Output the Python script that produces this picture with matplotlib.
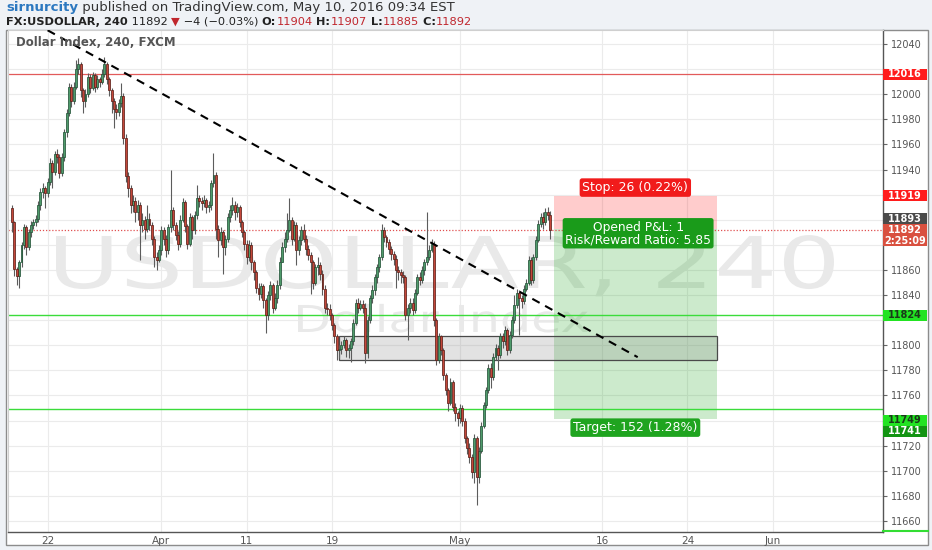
import matplotlib
matplotlib.use("Agg")
import matplotlib.pyplot as plt
import matplotlib.transforms as mtransforms
from matplotlib.patches import Rectangle, PathPatch
from matplotlib.lines import Line2D
from matplotlib.textpath import TextPath
from matplotlib.font_manager import FontProperties
import numpy as np
import pandas as pd

W, H, DPI = 932, 550, 100

# ---------------- data (4h candles, FX:USDOLLAR) ----------------
first_open = 11909
closes = [11898,11861,11855,11866,11880,11894,11878,11890,11896,11898,11901,11912,11922,11925,11921,11930,11945,11938,11952,11950,
          11937,11950,11970,11985,12006,11995,12006,12020,12024,12003,11995,12000,12014,12005,12015,12006,12012,12010,12016,12024,
          12012,12003,11995,11988,11986,11993,11999,11965,11935,11925,11912,11915,11906,11912,11896,11900,11893,
          11901,11896,11885,11870,11868,11876,11892,11885,11876,11894,11908,11896,11888,11881,11900,11914,11895,11881,11902,11892,
          11904,11917,11915,11913,11916,11910,11912,11929,11936,11893,11884,11890,11878,11885,11902,11908,11912,11906,11910,11898,
          11890,11881,11870,11880,11866,11858,11846,11841,11847,11836,11824,11840,11848,11830,11838,11848,11866,
          11878,11885,11892,11900,11885,11896,11876,11884,11892,11885,11877,11872,11866,11850,11862,11864,11857,11845,11830,11829,
          11824,11816,11807,11796,11797,11800,11804,11796,11798,11803,11818,11834,11830,11833,11830,11794,11820,11838,11844,11854,
          11862,11870,11892,11886,11882,11877,11873,11869,11860,11858,11856,11854,11824,11830,11834,11828,11842,11854,11852,11860,
          11866,11870,11876,11881,11820,11788,
          11807,11796,11776,11764,11754,11771,11751,11746,11742,11750,11740,11726,11718,11711,11699,11726,11695,11716,11736,11752,
          11764,11782,11775,11791,11798,11792,11807,11803,11812,11796,11808,11820,11832,11842,11838,11835,11845,11850,11868,11852,
          11870,11884,11897,11902,11898,11906,11904,11892]
highs = [11912,11899,11862,11868,11882,11897,11896,11893,11899,11901,11904,11915,11925,11929,11927,11933,11949,11948,11955,11956,
         11952,11953,11972,11988,12009,12008,12010,12027,12029,12026,12005,12004,12017,12016,12018,12017,12015,12014,12020,12030,
         12026,12014,12005,11997,11992,11996,12009,12001,11968,11938,11928,11920,11918,11916,11914,11905,11903,
         11912,11905,11898,11887,11874,11880,11895,11894,11888,11897,11940,11910,11898,11891,11904,11917,11916,11897,11905,11904,
         11907,11928,11920,11918,11920,11917,11915,11932,11953,11938,11896,11894,11892,11888,11905,11912,11918,11915,11913,11912,
         11900,11892,11884,11884,11882,11868,11860,11850,11850,11849,11838,11843,11851,11850,11842,11852,11870,
         11882,11890,11905,11917,11902,11899,11898,11887,11895,11897,11888,11880,11874,11868,11865,11870,11866,11860,11848,11834,
         11833,11826,11818,11809,11800,11803,11807,11806,11801,11806,11821,11837,11838,11836,11836,11834,11823,11840,11848,11857,
         11865,11873,11897,11894,11888,11885,11879,11875,11872,11863,11861,11859,11856,11833,11838,11838,11845,11857,11858,11863,
         11869,11906,11880,11885,11883,11822,
         11810,11808,11798,11778,11766,11774,11772,11754,11748,11753,11752,11742,11728,11722,11713,11729,11728,11719,11739,11755,
         11767,11785,11786,11794,11801,11800,11810,11810,11815,11814,11811,11823,11840,11845,11844,11840,11848,11853,11871,11870,
         11873,11887,11900,11905,11906,11909,11910,11907]
lows = [11890,11855,11848,11846,11862,11877,11872,11876,11886,11893,11895,11898,11908,11917,11909,11918,11928,11925,11936,11945,
        11933,11935,11947,11966,11983,11990,11992,12004,12016,11998,11985,11990,11998,12001,12003,12002,12004,12006,12008,12014,
        12008,11999,11985,11973,11980,11983,11990,11960,11930,11918,11905,11906,11898,11900,11868,11890,11885,
        11890,11892,11880,11862,11860,11866,11872,11880,11870,11873,11890,11892,11884,11876,11878,11898,11890,11877,11879,11885,
        11889,11901,11910,11908,11910,11905,11906,11908,11926,11885,11870,11880,11857,11872,11882,11898,11904,11900,11902,11894,
        11886,11876,11865,11867,11860,11852,11842,11836,11838,11830,11810,11820,11836,11826,11828,11834,11845,
        11866,11874,11882,11890,11880,11883,11864,11872,11880,11882,11872,11868,11841,11845,11848,11856,11852,11840,11826,11824,
        11820,11812,11802,11788,11790,11793,11798,11791,11790,11787,11800,11816,11826,11828,11826,11786,11790,11818,11834,11840,
        11850,11858,11868,11882,11878,11873,11868,11864,11846,11852,11850,11850,11820,11804,11826,11824,11826,11840,11848,11850,
        11856,11864,11868,11874,11815,11784,
        11786,11792,11772,11760,11748,11752,11748,11740,11736,11738,11736,11722,11713,11706,11694,11690,11673,11690,11714,11734,
        11750,11762,11766,11772,11788,11780,11790,11798,11800,11792,11794,11806,11818,11830,11808,11830,11833,11843,11848,11848,
        11850,11868,11882,11894,11893,11896,11900,11885]

first_bar_time = "2016-03-17 12:00"
bars_per_day = 6
tick_dates = ["2016-03-22", "2016-04-01", "2016-04-11", "2016-04-19", "2016-05-02", "2016-05-16", "2016-05-24", "2016-06-01"]
tick_labels = ["22", "Apr", "11", "19", "May", "16", "24", "Jun"]
price_ticks = list(range(11660, 12041, 20))

resistance_level = 12016
support_levels = [11824, 11749]
last_price = 11892
entry_price, stop_price, target_price = 11893, 11919, 11741
position_bars = [228.5, 297.5]
zone_bars = [138, 297.5]
zone_prices = [11788, 11807.5]
trend_bars = [15, 264]
trend_prices = [12051, 11790.5]

# ---------------- figure ----------------
fig = plt.figure(figsize=(W / DPI, H / DPI), dpi=DPI, facecolor="#eff2f6")
L, R, T, B = 8, 883, 30, 532
ax = fig.add_axes([L / W, 1 - B / H, (R - L) / W, (B - T) / H])
fig.add_artist(Rectangle((6 / W, 1 - 545 / H), (928 - 6) / W, (545 - T) / H, transform=fig.transFigure,
                         facecolor="white", edgecolor="#8c8c8c", lw=1.0, zorder=-5))

o = np.array([first_open] + closes[:-1], dtype=float)
c = np.array(closes, dtype=float)
hi = np.array(highs, dtype=float)
lo = np.array(lows, dtype=float)
x = np.arange(len(c))
up = c >= o

YMIN, YMAX = 11651.2, 12051.2
ax.set_xlim(-1.7, 367.5)
ax.set_ylim(YMIN, YMAX)
px_per_unit = (B - T) / (YMAX - YMIN)
ax_w_px = R - L

def price_to_px(p):
    return T + (YMAX - p) * px_per_unit

# watermark (stretched text paths, pixel placement)
def watermark(text, left_px, baseline_px, width_px, cap_px):
    fp = FontProperties(family="DejaVu Sans")
    tp = TextPath((0, 0), text, size=1, prop=fp)
    ext = tp.get_extents()
    sx = width_px / ext.width
    sy = cap_px / 0.729
    tr = (mtransforms.Affine2D().translate(-ext.x0, 0).scale(sx / DPI, sy / DPI)
          .translate(left_px / DPI, (H - baseline_px) / DPI) + fig.dpi_scale_trans)
    ax.add_patch(PathPatch(tp, transform=tr, facecolor="#e9e9e9", edgecolor="none", zorder=0.6))

watermark("USDOLLAR, 240", 56, 288, 778, 52)
watermark("Dollar Index", 298, 332, 290, 27)

# grid & axes styling
ax.set_axisbelow(True)
days = pd.bdate_range("2016-03-17", "2016-06-30")
day_idx = {d: k for k, d in enumerate(days)}
start = pd.Timestamp(first_bar_time)
offset = start.hour // (24 // bars_per_day)
tick_pos = [day_idx[pd.Timestamp(d)] * bars_per_day - offset for d in tick_dates]
ax.set_xticks(tick_pos)
ax.set_xticklabels(tick_labels)

# tags on the price scale: (price, text, bg, fg, shift in px)
tags = [(resistance_level, str(resistance_level), "#ff1c1c", "white", 0),
        (stop_price, str(stop_price), "#ff1c1c", "white", 0),
        (entry_price, str(entry_price), "#4a4a4a", "white", -10),
        (last_price, str(last_price), "#d9503f", "white", 0),
        (last_price, "2:25:09", "#d9503f", "white", 11),
        (support_levels[0], str(support_levels[0]), "#22e322", "#1a3a1a", 0),
        (support_levels[1], str(support_levels[1]), "#22e322", "#1a3a1a", 11),
        (target_price, str(target_price), "#129412", "white", 12)]
tag_px = [price_to_px(p) + d for p, _, _, _, d in tags]
ylabels = []
for tk in price_ticks:
    covered = any(abs(price_to_px(tk) - tp) < 9 for tp in tag_px)
    ylabels.append("" if covered else str(tk))
ax.set_yticks(price_ticks)
ax.set_yticklabels(ylabels)
ax.yaxis.tick_right()
ax.grid(True, color="#ebebeb", lw=0.8)
ax.tick_params(axis="x", length=0, pad=3, labelsize=7.5, labelcolor="#555555")
ax.tick_params(axis="y", length=3, width=0.8, color="#666666", pad=3, labelsize=7, labelcolor="#555555")
for s in ["top", "left"]:
    ax.spines[s].set_color("#cfcfcf")
for s in ["right", "bottom"]:
    ax.spines[s].set_color("#555555")
    ax.spines[s].set_linewidth(1.0)

# horizontal levels
ax.axhline(resistance_level, color="#e25a5a", lw=0.9, zorder=2)
for lv in support_levels:
    ax.axhline(lv, color="#3bdc3b", lw=1.0, zorder=2)

# position tool (short)
ax.add_patch(Rectangle((position_bars[0], entry_price), position_bars[1] - position_bars[0], stop_price - entry_price,
                       facecolor=(1, 0, 0, 0.2), edgecolor="none", zorder=1.5))
ax.add_patch(Rectangle((position_bars[0], target_price), position_bars[1] - position_bars[0], entry_price - target_price,
                       facecolor=(0, 0.6, 0, 0.2), edgecolor="none", zorder=1.5))

# gray zone
ax.add_patch(Rectangle((zone_bars[0], zone_prices[0]), zone_bars[1] - zone_bars[0], zone_prices[1] - zone_prices[0],
                       facecolor=(0.55, 0.55, 0.55, 0.25), edgecolor="#4a4a4a", lw=0.9, zorder=2))

# last price dotted line
ax.axhline(last_price, color="#e05050", lw=0.9, ls=(0, (1, 1.5)), zorder=2.2)

# candles
ax.vlines(x, lo, hi, color="#5c5c5c", lw=0.8, zorder=3)
ax.bar(x[up], np.maximum(c - o, 0.6)[up], bottom=o[up], width=0.82, color="#4f9b6b",
       edgecolor="#25553a", lw=0.55, zorder=4)
ax.bar(x[~up], np.maximum(o - c, 0.6)[~up], bottom=c[~up], width=0.82, color="#c4473a",
       edgecolor="#5e211a", lw=0.55, zorder=4)

# trend line
ax.plot(trend_bars, trend_prices, color="black", lw=1.5, ls=(0, (4, 3)), zorder=5)

# position labels
cx = (position_bars[0] + position_bars[1]) / 2
ax.annotate("Stop: 26 (0.22%)", xy=(cx, stop_price), xytext=(0, 6), textcoords="offset points",
            ha="center", va="center", color="white", fontsize=9, zorder=8,
            bbox=dict(boxstyle="round,pad=0.22,rounding_size=0.2", fc="#f11b1b", ec="none"))
ax.annotate("Opened P&L: 1\nRisk/Reward Ratio: 5.85", xy=(cx, last_price), xytext=(2, -2.5),
            textcoords="offset points", ha="center", va="center", color="white", fontsize=8.8,
            linespacing=0.95, zorder=8,
            bbox=dict(boxstyle="round,pad=0.2,rounding_size=0.2", fc="#1a9b1a", ec="none"))
ax.annotate("Target: 152 (1.28%)", xy=(cx, target_price), xytext=(0, -6), textcoords="offset points",
            ha="center", va="center", color="white", fontsize=9, zorder=8,
            bbox=dict(boxstyle="round,pad=0.22,rounding_size=0.2", fc="#1fa41f", ec="none"))

# price-axis tags
trans = mtransforms.blended_transform_factory(ax.transAxes, ax.transData)
for price, text, bg, fg, dy in tags:
    t = trans + mtransforms.ScaledTranslation(0, -dy / DPI, fig.dpi_scale_trans)
    hh = 11 / px_per_unit
    ax.add_patch(Rectangle((1.0, price - hh / 2), 44 / ax_w_px, hh, transform=t, facecolor=bg,
                           edgecolor="none", clip_on=False, zorder=10))
    ax.text(1.0 + 22 / ax_w_px, price, text, transform=t, ha="center", va="center", fontsize=7,
            fontweight="bold", color=fg, clip_on=False, zorder=11)

# green line at bottom of price scale
fig.add_artist(Line2D([R / W, 928 / W], [1 - 531 / H, 1 - 531 / H], transform=fig.transFigure,
                      color="#33dd33", lw=1.5, zorder=6))

# legend text
ax.text(8 / ax_w_px, 1 - 12 / (B - T), "Dollar Index, 240, FXCM", transform=ax.transAxes, ha="left",
        va="center", fontsize=8.5, fontweight="bold", color="#555555", zorder=9)

# header lines
def chain(parts, x_px, y_px, size):
    prev = fig.text(x_px / W, 1 - y_px / H, parts[0][0], color=parts[0][1], fontweight=parts[0][2],
                    fontsize=size, ha="left", va="bottom")
    for txt, col, wt in parts[1:]:
        prev = ax.annotate(txt, xy=(1, 0), xycoords=prev, ha="left", va="bottom", color=col,
                           fontweight=wt, fontsize=size, annotation_clip=False)

chain([("sirnurcity", "#2c78c0", "bold"),
       (" published on TradingView.com, May 10, 2016 09:34 EST", "#333333", "normal")], 6, 14, 9.5)
red = "#c0262d"
chain([("FX:USDOLLAR, 240", "#222222", "bold"),
       (" 11892 ", "#222222", "normal"),
       ("\u25bc", red, "normal"),
       (" \u22124 (\u22120.03%) ", "#222222", "normal"),
       ("O:", "#222222", "bold"), ("11904", red, "normal"),
       (" H:", "#222222", "bold"), ("11907", red, "normal"),
       (" L:", "#222222", "bold"), ("11885", red, "normal"),
       (" C:", "#222222", "bold"), ("11892", red, "normal")], 6, 27, 8.2)

fig.savefig("out.png", dpi=DPI, facecolor=fig.get_facecolor())
